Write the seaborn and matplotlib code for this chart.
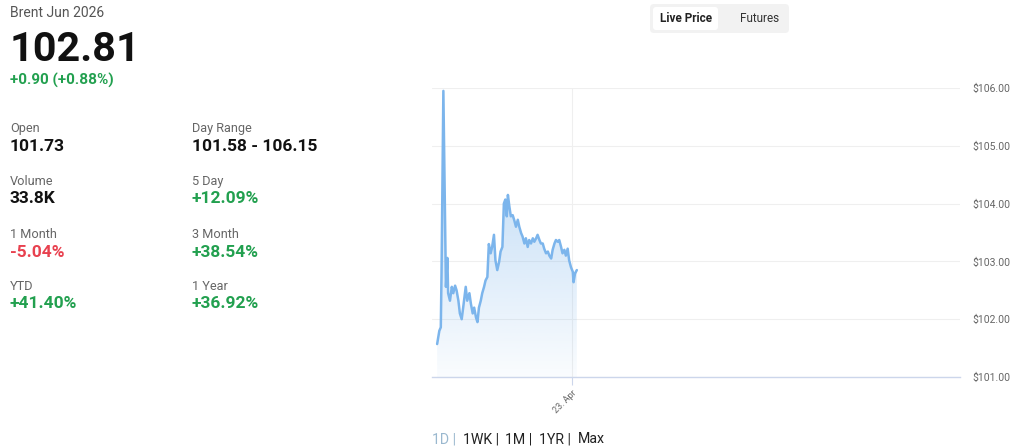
import matplotlib
matplotlib.use("Agg")
import matplotlib.pyplot as plt
from matplotlib.patches import FancyBboxPatch
import numpy as np
import pandas as pd
import seaborn as sns

# ---------------- data ----------------
# minutes since 22 Apr 00:00
minutes = [1072, 1078, 1082, 1084, 1089, 1096, 1100, 1102, 1107, 1112, 1116, 1121,
           1125, 1130, 1134, 1139, 1143, 1150, 1154, 1160, 1164, 1169, 1173, 1178,
           1182, 1186, 1191, 1195, 1200, 1204, 1209, 1213, 1218, 1222, 1227, 1231,
           1236, 1241, 1245, 1250, 1254, 1258, 1262, 1265, 1269, 1273, 1278, 1282,
           1287, 1292, 1296, 1301, 1305, 1310, 1314, 1319, 1323, 1328, 1333, 1337,
           1342, 1346, 1351, 1355, 1360, 1364, 1369, 1374, 1378, 1383, 1387, 1392,
           1396, 1401, 1405, 1410, 1414, 1419, 1423, 1428, 1432, 1437, 1442, 1444,
           1448, 1453]
prices = [101.57, 101.80, 101.86, 102.80, 105.95, 102.56, 103.06, 102.45, 102.32, 102.56,
          102.45, 102.58, 102.50, 102.32, 102.10, 102.00, 102.20, 102.56, 102.32, 102.45,
          102.27, 102.10, 102.20, 102.03, 101.95, 102.20, 102.32, 102.45, 102.56, 102.67,
          102.73, 103.30, 103.14, 103.25, 103.46, 103.02, 102.85, 102.99, 103.17, 103.25,
          104.00, 104.07, 103.78, 104.15, 103.95, 103.78, 103.80, 103.72, 103.60, 103.72,
          103.60, 103.49, 103.43, 103.31, 103.40, 103.25, 103.37, 103.31, 103.40, 103.34,
          103.40, 103.46, 103.37, 103.31, 103.31, 103.22, 103.14, 103.17, 103.10, 103.05,
          103.20, 103.31, 103.37, 103.34, 103.37, 103.25, 103.14, 103.20, 103.10, 103.22,
          103.02, 102.90, 102.82, 102.64, 102.79, 102.85]
y_ticks = [101, 102, 103, 104, 105, 106]
y_tick_labels = ["$101.00", "$102.00", "$103.00", "$104.00", "$105.00", "$106.00"]
x_tick_pos = [1440]
x_tick_labels = ["23. Apr"]
x_range = [1058, 2498]

title = "Brent Jun 2026"
last_price = "102.81"
change = "+0.90 (+0.88%)"
stat_labels = ["Open", "Volume", "1 Month", "YTD", "Day Range", "5 Day", "3 Month", "1 Year"]
stat_values = ["101.73", "33.8K", "-5.04%", "+41.40%", "101.58 - 106.15", "+12.09%", "+38.54%", "+36.92%"]
stat_kinds = ["n", "n", "down", "up", "n", "up", "up", "up"]
ranges = ["1D", "1WK", "1M", "1YR", "Max"]

df = pd.DataFrame({"t": minutes, "price": prices})

# ---------------- style ----------------
sns.set_theme(style="white")
plt.rcParams["font.family"] = ["Roboto", "DejaVu Sans"]

W, H = 1024, 448
fig = plt.figure(figsize=(W / 100, H / 100), dpi=100)
fig.patch.set_facecolor("white")

def fx(x):
    return x / W

def fy(y):
    return 1 - y / H

ax = fig.add_axes([fx(432), fy(377), fx(960) - fx(432), fy(88) - fy(377)])

LINE = "#7cb5ec"
GREEN = "#22a04f"
RED = "#e8414f"
GRAY = "#666666"

sns.lineplot(data=df, x="t", y="price", ax=ax, color=LINE, linewidth=1.8, zorder=3)

# gradient area
poly = ax.fill_between(df["t"], df["price"], 101, color="none", lw=0)
grad = np.zeros((256, 1, 4))
grad[:, 0, 0] = 124 / 255
grad[:, 0, 1] = 181 / 255
grad[:, 0, 2] = 236 / 255
grad[:, 0, 3] = np.linspace(0.6, 0.04, 256)
im = ax.imshow(grad, aspect="auto", extent=[x_range[0], x_range[1], 101, 106],
               origin="upper", zorder=2)
im.set_clip_path(poly.get_paths()[0], transform=ax.transData)

ax.set_xlim(*x_range)
ax.set_ylim(101, 106)
ax.set_xlabel("")
ax.set_ylabel("")

ax.yaxis.tick_right()
ax.set_yticks(y_ticks)
ax.set_yticklabels(y_tick_labels, fontsize=7.5, color=GRAY)
ax.tick_params(axis="y", length=0, pad=9)

ax.set_xticks(x_tick_pos)
ax.set_xticklabels(x_tick_labels, fontsize=6.5, color=GRAY, rotation=45,
                   ha="right", va="top", rotation_mode="anchor")
ax.tick_params(axis="x", length=6, width=0.8, color="#ccd6eb", pad=2, bottom=True)

for s in ["left", "top", "right"]:
    ax.spines[s].set_visible(False)
ax.spines["bottom"].set_color("#ccd6eb")
ax.spines["bottom"].set_linewidth(1)
ax.spines["bottom"].set_zorder(4)

ax.grid(True, axis="both", color="#efefef", linewidth=0.8)
ax.set_axisbelow(True)

# ---------------- left panel text ----------------
fig.text(fx(10), fy(17), title, fontsize=10, color="#555555", va="baseline")
fig.text(fx(10), fy(61), last_price, fontsize=29.8, fontweight="bold", color="#111111", va="baseline")
fig.text(fx(10), fy(85), change, fontsize=11, fontweight="semibold", color=GREEN, va="baseline")

label_base = [132, 185, 238, 290]
value_base = [151, 203, 257, 308]
for i, (lab, val, kind) in enumerate(zip(stat_labels, stat_values, stat_kinds)):
    col = i // 4
    row = i % 4
    x = 10 if col == 0 else 192
    fig.text(fx(x), fy(label_base[row]), lab, fontsize=9.2, color=GRAY, va="baseline")
    c = {"n": "#111111", "up": GREEN, "down": RED}[kind]
    fig.text(fx(x), fy(value_base[row]), val, fontsize=12.5, fontweight="bold", color=c, va="baseline")

# ---------------- toggle ----------------
tr = fig.dpi_scale_trans
outer = FancyBboxPatch((650 / 100, (H - 33) / 100), 139 / 100, 29 / 100,
                       boxstyle="round,pad=0,rounding_size=0.04", transform=tr,
                       facecolor="#f2f2f2", edgecolor="none")
inner = FancyBboxPatch((653 / 100, (H - 30) / 100), 65 / 100, 23 / 100,
                       boxstyle="round,pad=0,rounding_size=0.03", transform=tr,
                       facecolor="white", edgecolor="none")
fig.add_artist(outer)
fig.add_artist(inner)
fig.text(fx(686), fy(18.5), "Live Price", fontsize=8.5, fontweight="bold", color="#222222",
         ha="center", va="center")
fig.text(fx(760), fy(18.5), "Futures", fontsize=8.5, color="#333333", ha="center", va="center")

# ---------------- range selector ----------------
xpos = 432
renderer = fig.canvas.get_renderer()
for i, r in enumerate(ranges):
    color = "#9ab8cf" if i == 0 else "#222222"
    txt = r + (" | " if i < len(ranges) - 1 else "")
    t = fig.text(fx(xpos), fy(443), txt, fontsize=10.2, color=color, va="baseline")
    bb = t.get_window_extent(renderer=renderer)
    xpos += bb.width + 3

fig.savefig("out.png", dpi=100, facecolor="white")
